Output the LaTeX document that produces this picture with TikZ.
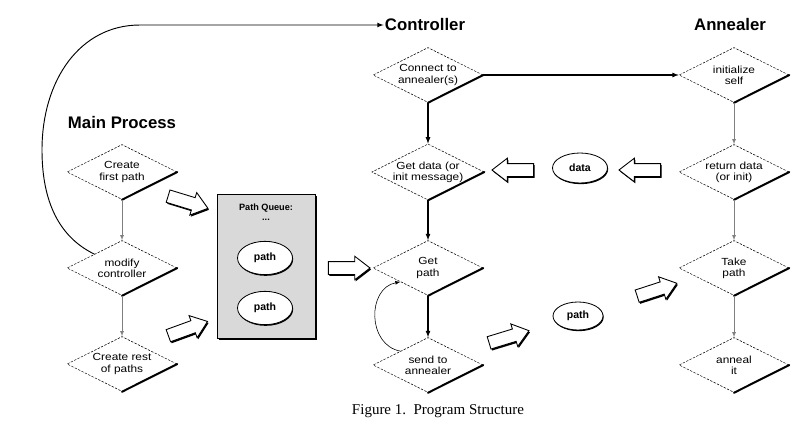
\documentclass[tikz,border=0pt]{standalone}
\usepackage{fontspec}
\setmainfont{Liberation Sans}
\newfontfamily\capfont{Liberation Serif}
\newfontfamily\boxfont{Liberation Sans}[FakeStretch=1.15]
\usetikzlibrary{shapes.geometric,shapes.arrows,shadows}

\tikzset{
	heading/.style={font=\fontsize{14.3}{16}\selectfont\bfseries, inner sep=1pt},
	decision/.style={diamond, draw, dash pattern=on 2pt off 1.2pt, line width=0.45pt, aspect=2, inner sep=0pt, minimum width=3.3cm, minimum height=1.65cm, align=center, font=\boxfont\fontsize{8.8}{9.6}\selectfont},
	thickedge/.style={line width=1.7pt, line cap=round},
	token/.style={ellipse, draw, fill=white, line width=0.7pt, inner sep=0pt, font=\fontsize{9}{10}\selectfont\bfseries, drop shadow={shadow xshift=0.6pt, shadow yshift=-1pt, fill=black, opacity=1}},
	hollow/.style={single arrow, draw, fill=white, line width=0.75pt, inner sep=0.18cm, single arrow head extend=0.16cm, single arrow tip angle=75, minimum height=1.25cm, drop shadow={shadow xshift=0.9pt, shadow yshift=-1.3pt, fill=black, opacity=1}},
	queue/.style={rectangle, draw, fill=gray!30, minimum width=2.94cm, minimum height=4.32cm, drop shadow={shadow xshift=1.6pt, shadow yshift=-1.6pt, fill=black, opacity=1}},
	flow/.style={->, >=latex, line width=0.5pt}
}

\begin{document}
\begin{tikzpicture}[x=0.03cm, y=-0.03cm]

		\useasboundingbox (0,0) rectangle (809,421);

		\node [heading] (0) at (122,123) {Main Process};
		\node [heading] (1) at (425,25) {Controller};
		\node [heading] (2) at (730,25) {Annealer};

		\node [decision] (3) at (122,172) {Create\\first path};
		\node [decision] (4) at (122,268) {modify\\controller};
		\node [decision] (5) at (122,364) {Create rest\\of paths};
		\node [decision] (6) at (428,75) {Connect to\\annealer(s)};
		\node [decision] (7) at (428,172) {Get data (or\\init message)};
		\node [decision] (8) at (428,268) {Get\\path};
		\node [decision] (9) at (428,365) {send to\\annealer};
		\node [decision] (10) at (734,75) {initialize\\self};
		\node [decision] (11) at (734,172) {return data\\(or init)};
		\node [decision] (12) at (734,268) {Take\\path};
		\node [decision] (13) at (734,365) {anneal\\it};

		\node [queue] (14) at (266,266) {};
		\node [font=\fontsize{7.8}{9}\selectfont\bfseries] (15) at (266,208) {Path Queue:};
		\node [font=\fontsize{7.8}{9}\selectfont\bfseries] (16) at (266,220) {...};
		\node [token, minimum width=1.65cm, minimum height=1cm] (17) at (265,258) {path};
		\node [token, minimum width=1.65cm, minimum height=1cm] (18) at (265,308) {path};
		\node [token, minimum width=1.65cm, minimum height=0.9cm] (19) at (580,168) {data};
		\node [token, minimum width=1.5cm, minimum height=0.84cm] (20) at (578,316) {path};

		\node [hollow, rotate=-17] (21) at (184,201) {};
		\node [hollow, rotate=20] (22) at (184,330) {};
		\node [hollow] (23) at (345,268) {};
		\node [hollow, rotate=180] (24) at (644,170) {};
		\node [hollow, rotate=180] (25) at (517,170) {};
		\node [hollow, rotate=17] (26) at (505,338) {};
		\node [hollow, rotate=18] (27) at (653,291) {};

		\node [font=\capfont\fontsize{12.8}{15}\selectfont] (28) at (438,411) {Figure 1.\ \ Program Structure};

		\coordinate (29) at (140,25);

		\foreach \n in {3,...,13}
			\draw [thickedge] (\n.east) -- (\n.south);

		\draw [flow, gray] (3) to (4);
		\draw [flow, gray] (4) to (5);
		\draw [flow, line width=0.9pt] (6) to (7);
		\draw [flow, line width=0.9pt] (7) to (8);
		\draw [flow, line width=0.9pt] (8) to (9);
		\draw [flow, line width=0.9pt] (6) to (10);
		\draw [flow, gray] (10) to (11);
		\draw [flow, gray] (11) to (12);
		\draw [flow, gray] (12) to (13);
		\draw [flow] (9.north west) .. controls (367,345) and (367,288) .. (8.south west);
		\draw [flow, line width=0.8pt] (4.north west) .. controls (55,235) and (42,195) .. (42,150) .. controls (42,80) and (80,25) .. (29) -- (1);
\end{tikzpicture}
\end{document}
